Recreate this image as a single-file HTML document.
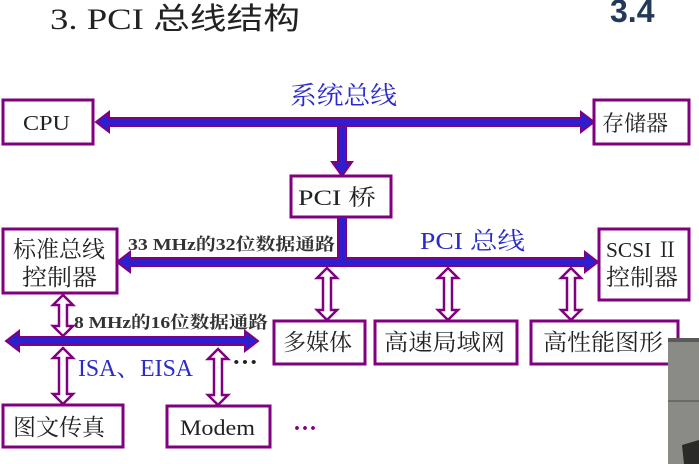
<!DOCTYPE html>
<html><head><meta charset="utf-8"><style>
html,body{margin:0;padding:0;background:#fff;}
svg{display:block;}
.s{font-family:"Liberation Serif","Noto Serif CJK SC",serif;}
.k{font-family:"Liberation Serif","Noto Sans CJK SC",sans-serif;}
</style></head><body>
<svg width="699" height="464" viewBox="0 0 699 464" xmlns="http://www.w3.org/2000/svg">
<rect width="699" height="464" fill="#fff"/>
<text x="50" y="29" class="k" font-size="30" fill="#222" textLength="250" lengthAdjust="spacingAndGlyphs">3. PCI 总线结构</text>
<text x="610" y="22" font-family="Liberation Sans,sans-serif" font-weight="bold" font-size="32" fill="#23395a">3.4</text>

<g fill="#fff" stroke="#800080" stroke-width="3">
<rect x="3" y="100" width="90" height="44"/>
<rect x="594" y="100" width="95" height="44"/>
<rect x="291" y="176" width="100" height="41"/>
<rect x="3" y="229" width="114" height="64"/>
<rect x="599" y="229" width="90" height="71"/>
<rect x="274" y="321" width="91" height="43"/>
<rect x="375" y="321" width="142" height="43"/>
<rect x="531" y="321" width="147" height="43"/>
<rect x="3" y="405" width="120" height="42"/>
<rect x="167" y="406" width="103" height="41"/>
</g>

<g fill="#2c1fd0" stroke="#800080" stroke-width="2" stroke-linejoin="miter">
<path d="M96,122 L109,112 L109,118 L581,118 L581,112 L594,122 L581,132 L581,126 L109,126 L109,132 Z"/>
<path d="M338,126 L346,126 L346,162 L352,162 L342,176 L332,162 L338,162 Z"/>
<path d="M338,217 L346,217 L346,258 L585,258 L585,252 L598,262 L585,272 L585,266 L130,266 L130,272 L117,262 L130,252 L130,258 L338,258 Z"/>
<path d="M6,341 L19,331 L19,337 L245,337 L245,331 L258,341 L245,351 L245,345 L19,345 L19,351 Z"/>
</g>

<g fill="#fff" stroke="#800080" stroke-width="2.5" stroke-linejoin="miter">
<path d="M63,295 L73,305 L67,305 L67,326 L73,326 L63,336 L53,326 L59,326 L59,305 L53,305 Z"/>
<path d="M63,348 L73,358 L67,358 L67,394 L73,394 L63,404 L53,394 L59,394 L59,358 L53,358 Z"/>
<path d="M218,349 L228,359 L222,359 L222,395 L228,395 L218,405 L208,395 L214,395 L214,359 L208,359 Z"/>
<path d="M327,268 L337,278 L331,278 L331,310 L337,310 L327,320 L317,310 L323,310 L323,278 L317,278 Z"/>
<path d="M448,268 L458,278 L452,278 L452,310 L458,310 L448,320 L438,310 L444,310 L444,278 L438,278 Z"/>
<path d="M571,268 L581,278 L575,278 L575,310 L581,310 L571,320 L561,310 L567,310 L567,278 L561,278 Z"/>
</g>

<g class="s" fill="#222" lengthAdjust="spacingAndGlyphs">
<text x="23" y="130" font-size="21" textLength="47" lengthAdjust="spacingAndGlyphs">CPU</text>
<text x="602" y="131" font-size="22" textLength="66" lengthAdjust="spacingAndGlyphs">存储器</text>
<text x="298" y="205" font-size="22" textLength="78" lengthAdjust="spacingAndGlyphs">PCI 桥</text>
<text x="13" y="257" font-size="23" textLength="92" lengthAdjust="spacingAndGlyphs">标准总线</text>
<text x="22" y="285" font-size="23" textLength="75" lengthAdjust="spacingAndGlyphs">控制器</text>
<text x="606" y="257" font-size="21" textLength="72" lengthAdjust="spacingAndGlyphs">SCSI Ⅱ</text>
<text x="606" y="285" font-size="23" textLength="72" lengthAdjust="spacingAndGlyphs">控制器</text>
<text x="283" y="350" font-size="23" textLength="69" lengthAdjust="spacingAndGlyphs">多媒体</text>
<text x="384" y="350" font-size="23" textLength="121" lengthAdjust="spacingAndGlyphs">高速局域网</text>
<text x="543" y="350" font-size="23" textLength="120" lengthAdjust="spacingAndGlyphs">高性能图形</text>
<text x="13" y="435" font-size="23" textLength="92" lengthAdjust="spacingAndGlyphs">图文传真</text>
<text x="180" y="435" font-size="22" textLength="75" lengthAdjust="spacingAndGlyphs">Modem</text>
<text x="128" y="250" font-size="17" font-weight="bold" fill="#333" textLength="207" lengthAdjust="spacingAndGlyphs">33 MHz的32位数据通路</text>
<text x="74" y="328" font-size="17" font-weight="bold" fill="#333" textLength="194" lengthAdjust="spacingAndGlyphs">8 MHz的16位数据通路</text>
<text x="232" y="370" font-size="24" font-weight="bold" fill="#222" textLength="26" lengthAdjust="spacingAndGlyphs">···</text>
<text x="293" y="436" font-size="24" font-weight="bold" fill="#800080" textLength="24" lengthAdjust="spacingAndGlyphs">···</text>
</g>
<g class="s" fill="#2b2bc8">
<text x="290" y="104" font-size="25" textLength="107" lengthAdjust="spacingAndGlyphs">系统总线</text>
<text x="420" y="249" font-size="24" textLength="105" lengthAdjust="spacingAndGlyphs">PCI 总线</text>
<text x="78" y="376" font-size="24" textLength="115" lengthAdjust="spacingAndGlyphs">ISA、EISA</text>
</g>

<rect x="668" y="338" width="31" height="126" fill="#8a8a86"/>
<rect x="668" y="338" width="31" height="4" fill="#5a5a58"/>
<rect x="668" y="400" width="31" height="2" fill="#6a6a66"/>
<path d="M682,445 L699,440 L699,464 L684,464 Z" fill="#2a2a28"/>
</svg>
</body></html>
